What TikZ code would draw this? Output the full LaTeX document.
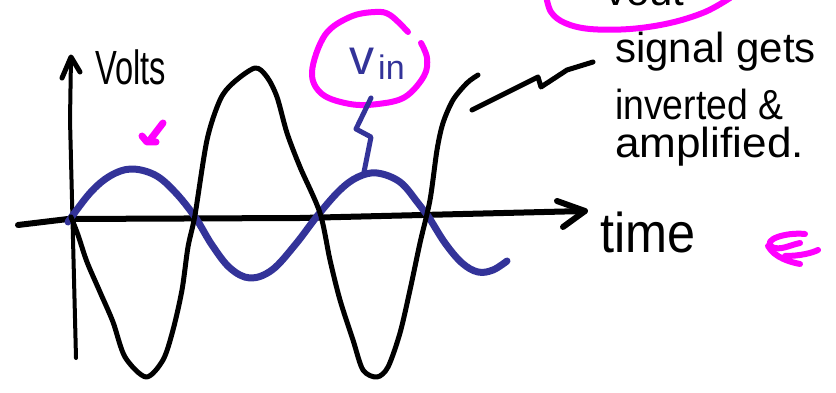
\documentclass[tikz,border=0pt]{standalone}
\usepackage{fontspec}
\setmainfont{Liberation Sans}
\definecolor{wblue}{RGB}{51,51,153}
\definecolor{wmag}{RGB}{255,0,255}
\tikzset{
  pen/.style={line width=#1, line cap=round, line join=round},
  blk/.style={pen=5pt, black},
  bluepen/.style={pen=7pt, wblue},
  magpen/.style={pen=6pt, wmag},
  hand/.style={inner sep=0pt, anchor=base west},
}
\begin{document}
\begin{tikzpicture}[x=1pt,y=-1pt]
\useasboundingbox (0,0) rectangle (836,393);
\clip (0,0) rectangle (836,393);
\fill[white] (0,0) rectangle (836,393);
% axes
\coordinate (ytop) at (71,57);
\coordinate (ybot) at (76,358);
\draw[pen=4pt] (ybot) -- (70,120) -- (ytop);
\draw[pen=5pt] (62,78) -- (ytop) -- (80,72);
\coordinate (xl) at (18,225);
\coordinate (xr) at (585,211);
\draw[pen=6pt] (xl) -- (68,219) -- (300,218) -- (xr);
\draw[pen=6pt] (557,201) -- (xr) -- (563,227);
% labels
\node[hand, font=\fontsize{48}{48}\selectfont] (volts) at (95,85) {\scalebox{0.68}[1]{Volts}};
\node[hand, font=\fontsize{56}{56}\selectfont] (time) at (600,252) {\scalebox{0.9}[1]{time}};
\node[hand, font=\fontsize{42}{42}\selectfont] (l1) at (615,63) {signal gets};
\node[hand, font=\fontsize{42}{42}\selectfont] (l2) at (615,120) {\scalebox{0.89}[1]{inverted \&}};
\node[hand, font=\fontsize{42}{42}\selectfont] (l3) at (615,158) {\scalebox{1.05}[1]{amplified.}};
\node[hand, font=\fontsize{42}{42}\selectfont] (vout) at (605,6) {vout};
% blue input wave
\draw[bluepen] plot[smooth, tension=0.6] coordinates {(68,222) (90,193) (110,176) (131,169) (155,175) (175,192) (195,217) (212,245) (230,268) (250,278) (272,270) (295,245) (318,215) (340,190) (358,177) (377,173) (400,182) (418,203) (428,216) (445,243) (462,263) (478,272) (493,270) (507,261)};
% black output wave
\draw[blk] plot[smooth, tension=0.5] coordinates {(71,217) (78,235) (87,262) (100,292) (113,322) (125,357) (146,377) (163,360) (173,330) (182,290) (188,247) (195,215) (207,140) (220,100) (233,83) (255,68) (267,77) (277,97) (287,133) (300,167) (320,213) (330,260) (340,300) (353,340) (363,370) (377,377) (388,367) (400,333) (410,290) (420,243) (430,200) (437,150) (443,123) (453,100) (467,83) (478,75)};
% v_in label
\node[hand, font=\fontsize{50}{50}\selectfont, text=wblue] (v) at (349,75) {v};
\node[hand, font=\fontsize{34}{34}\selectfont, text=wblue] (in) at (378,80) {in};
\draw[magpen] plot[smooth, tension=0.6] coordinates {(408,32) (390,15) (375,12) (350,17) (325,35) (312,72) (322,94) (350,104) (378,104) (405,97) (424,76) (427,58) (421,43)};
\coordinate (vinlead) at (371,98);
\draw[pen=5pt, wblue] (vinlead) -- (356,129) -- (371,137) -- (364,172);
% pointer to annotation
\coordinate (ann) at (593,62);
\draw[pen=5pt] (472,110) -- (538,77) -- (541,87) -- (567,70) -- (ann);
% magenta ellipse (cut off at top)
\draw[magpen] plot[smooth, tension=0.6] coordinates {(546,-5) (551,12) (565,23) (590,29) (630,29) (670,23) (705,12) (730,-2)};
% magenta ticks
\draw[pen=7pt, wmag] (163,123) -- (150,140);
\draw[pen=7pt, wmag] (142,136) -- (147,142) -- (156,142);
\draw[pen=6pt, wmag] (805,234) .. controls (785,232) and (762,240) .. (772,247) .. controls (780,251) and (790,245) .. (800,243);
\draw[pen=6pt, wmag] (768,246) .. controls (775,258) and (790,262) .. (800,264);
\draw[pen=6pt, wmag] (785,256) .. controls (800,256) and (812,253) .. (818,250);
\end{tikzpicture}
\end{document}
